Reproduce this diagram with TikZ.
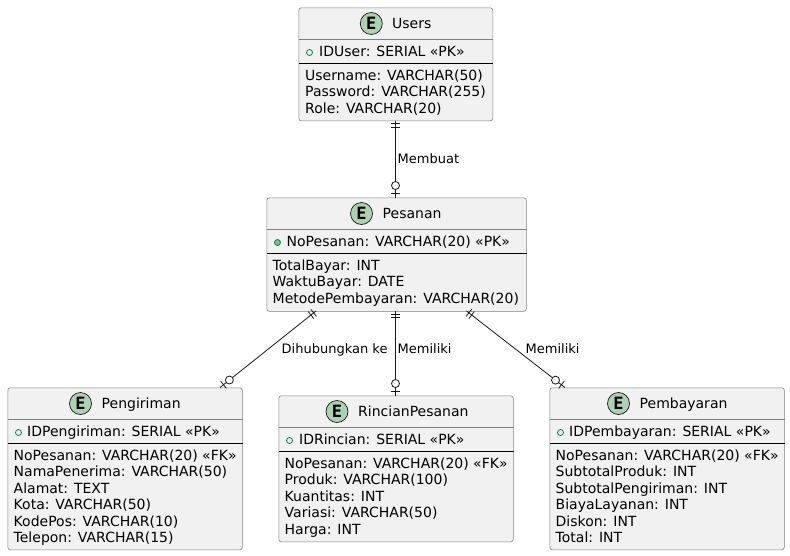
\documentclass[tikz,border=0pt]{standalone}
\usepackage{fontspec}
\setmainfont{DejaVu Sans}
\newfontfamily\badgefont{DejaVu Sans Mono}
\usetikzlibrary{calc}
\definecolor{boxfill}{HTML}{F1F1F1}
\definecolor{boxline}{HTML}{808080}
\definecolor{circfill}{HTML}{ADD1B2}
\definecolor{pkgreen}{HTML}{038048}
\definecolor{pkfill}{HTML}{84BE84}
\definecolor{ink}{HTML}{181818}
\tikzset{
  x=1pt,y=-1pt,
  entity/.style={draw=boxline,fill=boxfill,rounded corners=2.5pt,line width=0.6pt,inner sep=0pt,anchor=north west},
  titletext/.style={anchor=base west,inner sep=0pt,text=black,font=\fontsize{14}{16}\selectfont},
  bodytext/.style={anchor=base west,inner sep=0pt,text=black,font=\fontsize{14}{16}\selectfont},
  edgelabel/.style={anchor=base west,inner sep=0pt,text=black,font=\fontsize{13}{15}\selectfont},
  badge/.style={circle,draw=ink,fill=circfill,line width=0.7pt,minimum size=22pt,inner sep=0pt,font=\badgefont\fontsize{17}{17}\selectfont\bfseries,text=black},
  pkopen/.style={circle,draw=pkgreen,fill=none,line width=0.8pt,minimum size=6pt,inner sep=0pt},
  pkfull/.style={circle,draw=pkgreen,fill=pkfill,line width=0.8pt,minimum size=6pt,inner sep=0pt},
  relation/.style={draw=ink,line width=0.8pt},
  divider/.style={draw=boxline,line width=0.6pt},
  blackrule/.style={draw=black,line width=0.8pt},
}
\newcommand{\ebox}[5]{\node[entity,minimum width=#4pt,minimum height=#5pt] (#1) at (#2,#3) {};}
\newcommand{\twobar}[2]{%
  \draw[relation] ($(#1)!3pt!(#2)!4.5pt!90:(#2)$) -- ($(#1)!3pt!(#2)!4.5pt!-90:(#2)$);
  \draw[relation] ($(#1)!6.5pt!(#2)!4.5pt!90:(#2)$) -- ($(#1)!6.5pt!(#2)!4.5pt!-90:(#2)$);}
\newcommand{\zeroone}[2]{%
  \draw[relation] ($(#1)!4.5pt!(#2)!4.5pt!90:(#2)$) -- ($(#1)!4.5pt!(#2)!4.5pt!-90:(#2)$);
  \draw[relation,fill=white] ($(#1)!12pt!(#2)$) circle[radius=4pt];}
\begin{document}
\begin{tikzpicture}
\useasboundingbox (0,0) rectangle (790,555);
\fill[white] (0,0) rectangle (790,555);
% boxes
\ebox{users}{298.5}{7.5}{194}{113}
\ebox{pesanan}{266.5}{197.5}{259.5}{113.5}
\ebox{pengiriman}{7.5}{387.5}{234.5}{162}
\ebox{rincian}{278.5}{395.5}{234.5}{146}
\ebox{pembayaran}{549.5}{387.5}{234.5}{162}
% dividers
\draw[divider] (users.north west |- 0,39.5) -- (users.north east |- 0,39.5);
\draw[blackrule] (users.north west |- 0,63) -- (users.north east |- 0,63);
\draw[divider] (pesanan.north west |- 0,229.5) -- (pesanan.north east |- 0,229.5);
\draw[blackrule] (pesanan.north west |- 0,253) -- (pesanan.north east |- 0,253);
\draw[divider] (pengiriman.north west |- 0,419.5) -- (pengiriman.north east |- 0,419.5);
\draw[blackrule] (pengiriman.north west |- 0,443) -- (pengiriman.north east |- 0,443);
\draw[divider] (rincian.north west |- 0,427.5) -- (rincian.north east |- 0,427.5);
\draw[blackrule] (rincian.north west |- 0,451) -- (rincian.north east |- 0,451);
\draw[divider] (pembayaran.north west |- 0,419.5) -- (pembayaran.north east |- 0,419.5);
\draw[blackrule] (pembayaran.north west |- 0,443) -- (pembayaran.north east |- 0,443);
% badges and titles
\node[badge] (busers) at (371.3,23.5) {E};
\node[titletext] (tusers) at (392,28.5) {Users};
\node[badge] (bpesanan) at (361.5,213.5) {E};
\node[titletext] (tpesanan) at (382.5,218.5) {Pesanan};
\node[badge] (bpengiriman) at (80.5,403.5) {E};
\node[titletext] (tpengiriman) at (101.5,408.5) {Pengiriman};
\node[badge] (brincian) at (337,411.5) {E};
\node[titletext] (trincian) at (358,416.5) {RincianPesanan};
\node[badge] (bpembayaran) at (618.5,403.5) {E};
\node[titletext] (tpembayaran) at (639.5,408.5) {Pembayaran};
% pk rows
\node[pkopen] (musers) at (309.5,52.5) {};
\node[bodytext] (pkusers) at (319,56.5) {IDUser: SERIAL «PK»};
\node[pkfull] (mpesanan) at (277.5,242.5) {};
\node[bodytext] (pkpesanan) at (286.5,246.5) {NoPesanan: VARCHAR(20) «PK»};
\node[pkopen] (mpengiriman) at (18.5,432.5) {};
\node[bodytext] (pkpengiriman) at (27,436.5) {IDPengiriman: SERIAL «PK»};
\node[pkopen] (mrincian) at (289.5,440.5) {};
\node[bodytext] (pkrincian) at (299,444.5) {IDRincian: SERIAL «PK»};
\node[pkopen] (mpembayaran) at (560.5,432.5) {};
\node[bodytext] (pkpembayaran) at (569,436.5) {IDPembayaran: SERIAL «PK»};
% body rows
\node[bodytext] (u1) at (305,80) {Username: VARCHAR(50)};
\node[bodytext] (u2) at (305,96.5) {Password: VARCHAR(255)};
\node[bodytext] (u3) at (305,113) {Role: VARCHAR(20)};
\node[bodytext] (p1) at (272.5,270) {TotalBayar: INT};
\node[bodytext] (p2) at (272.5,286.5) {WaktuBayar: DATE};
\node[bodytext] (p3) at (272.5,303) {MetodePembayaran: VARCHAR(20)};
\node[bodytext] (k1) at (13.5,460) {NoPesanan: VARCHAR(20) «FK»};
\node[bodytext] (k2) at (13.5,476.5) {NamaPenerima: VARCHAR(50)};
\node[bodytext] (k3) at (13.5,493) {Alamat: TEXT};
\node[bodytext] (k4) at (13.5,509.5) {Kota: VARCHAR(50)};
\node[bodytext] (k5) at (13.5,526) {KodePos: VARCHAR(10)};
\node[bodytext] (k6) at (13.5,542.5) {Telepon: VARCHAR(15)};
\node[bodytext] (r1) at (284.5,468) {NoPesanan: VARCHAR(20) «FK»};
\node[bodytext] (r2) at (284.5,484.5) {Produk: VARCHAR(100)};
\node[bodytext] (r3) at (284.5,501) {Kuantitas: INT};
\node[bodytext] (r4) at (284.5,517.5) {Variasi: VARCHAR(50)};
\node[bodytext] (r5) at (284.5,534) {Harga: INT};
\node[bodytext] (b1) at (555.5,460) {NoPesanan: VARCHAR(20) «FK»};
\node[bodytext] (b2) at (555.5,476.5) {SubtotalProduk: INT};
\node[bodytext] (b3) at (555.5,493) {SubtotalPengiriman: INT};
\node[bodytext] (b4) at (555.5,509.5) {BiayaLayanan: INT};
\node[bodytext] (b5) at (555.5,526) {Diskon: INT};
\node[bodytext] (b6) at (555.5,542.5) {Total: INT};
% connector ends on the box borders
\coordinate (a1) at (395.5,120.5);
\coordinate (a2) at (395.5,197.5);
\coordinate (c1) at (316,311);
\coordinate (c2) at (220,387.5);
\coordinate (d1) at (395.5,311);
\coordinate (d2) at (395.5,395.5);
\coordinate (e1) at (466.5,311);
\coordinate (e2) at (565,387.5);
\draw[relation] (a1) -- (a2);
\draw[relation] (c1) -- (c2);
\draw[relation] (d1) -- (d2);
\draw[relation] (e1) -- (e2);
\twobar{a1}{a2}\zeroone{a2}{a1}
\twobar{c1}{c2}\zeroone{c2}{c1}
\twobar{d1}{d2}\zeroone{d2}{d1}
\twobar{e1}{e2}\zeroone{e2}{e1}
% labels
\node[edgelabel] (lmembuat) at (397.5,163) {Membuat};
\node[edgelabel] (lhub) at (281.5,353) {Dihubungkan ke};
\node[edgelabel] (lmem1) at (397.5,353) {Memiliki};
\node[edgelabel] (lmem2) at (525.5,353) {Memiliki};
\end{tikzpicture}
\end{document}
